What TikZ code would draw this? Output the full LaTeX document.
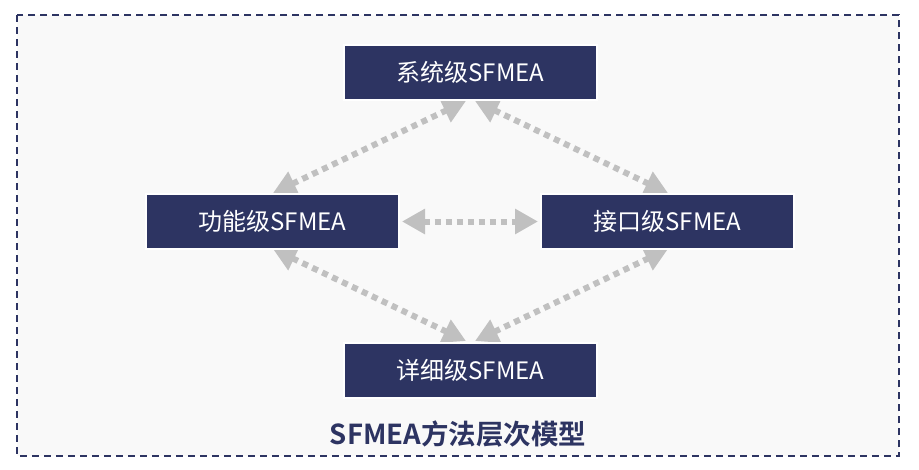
\documentclass[tikz,border=0pt]{standalone}
\usepackage{fontspec}
\newfontfamily\cjk{Noto Sans CJK SC}[BoldFont={Noto Sans CJK SC Bold}]
\usetikzlibrary{arrows.meta}
\definecolor{navy}{RGB}{45,52,98}
\definecolor{panel}{RGB}{249,249,249}
\definecolor{arrowgray}{RGB}{192,192,192}
\tikzset{
  level/.style={fill=navy, draw=white, line width=1.2pt, minimum width=253pt, minimum height=55pt,
    inner sep=0pt, text=white, font=\cjk\fontsize{24}{28}\selectfont},
  link/.style={draw=arrowgray, line width=6pt, dash pattern=on 6pt off 5pt,
    {Triangle[width=24pt,length=23pt]}-{Triangle[width=24pt,length=23pt]}},
}
\begin{document}
\begin{tikzpicture}[x=1pt,y=-1pt]
\useasboundingbox (0,0) rectangle (919,469);
\fill[white] (0,0) rectangle (919,469);
\draw[navy, fill=panel, line width=2.2pt, dash pattern=on 7pt off 5pt] (17,15) rectangle (899,456);

% connector endpoints
\coordinate (tl1) at (273,193);
\coordinate (tl2) at (466,101);
\coordinate (tr1) at (475,101);
\coordinate (tr2) at (668,193);
\coordinate (bl1) at (273,249);
\coordinate (bl2) at (466,341);
\coordinate (br1) at (475,341);
\coordinate (br2) at (668,249);
\coordinate (h1) at (402,221.5);
\coordinate (h2) at (538,221.5);

\draw[link] (tl1) -- (tl2);
\draw[link] (tr1) -- (tr2);
\draw[link] (bl1) -- (bl2);
\draw[link] (br1) -- (br2);
\draw[link] (h1) -- (h2);

\node[level] (sys) at (470.5,72.5) {系统级SFMEA};
\node[level] (fun) at (272.5,221.5) {功能级SFMEA};
\node[level] (ifc) at (667.5,221.5) {接口级SFMEA};
\node[level] (det) at (470.5,370.5) {详细级SFMEA};

\node[text=navy, font=\cjk\bfseries\fontsize{27.5}{31}\selectfont] (title) at (458,434) {SFMEA方法层次模型};
\end{tikzpicture}
\end{document}
